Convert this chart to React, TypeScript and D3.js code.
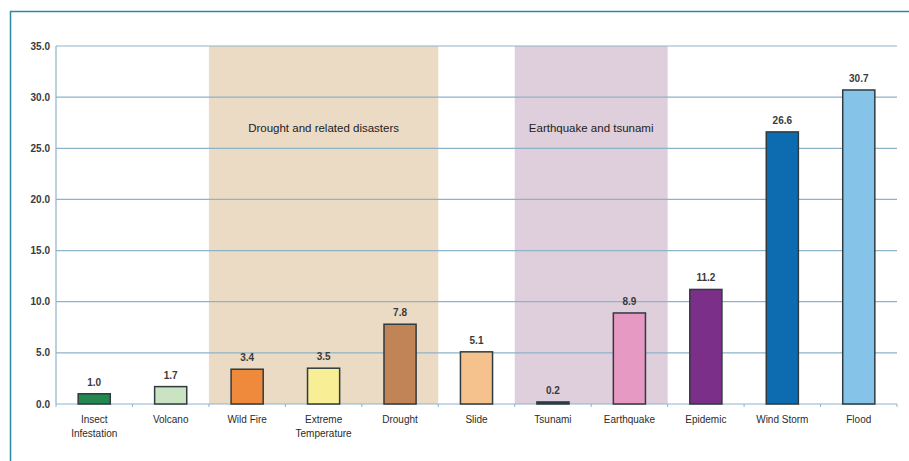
import React from "react";
import * as d3 from "d3";

// data
const categories = [
  "Insect Infestation",
  "Volcano",
  "Wild Fire",
  "Extreme Temperature",
  "Drought",
  "Slide",
  "Tsunami",
  "Earthquake",
  "Epidemic",
  "Wind Storm",
  "Flood",
];
const labelLines = [
  ["Insect", "Infestation"],
  ["Volcano"],
  ["Wild Fire"],
  ["Extreme", "Temperature"],
  ["Drought"],
  ["Slide"],
  ["Tsunami"],
  ["Earthquake"],
  ["Epidemic"],
  ["Wind Storm"],
  ["Flood"],
];
const values = [1.0, 1.7, 3.4, 3.5, 7.8, 5.1, 0.2, 8.9, 11.2, 26.6, 30.7];
const barColors = [
  "#22884f",
  "#c9e3c3",
  "#ef8a3c",
  "#f8ee96",
  "#c08457",
  "#f5c18c",
  "#1d3b5c",
  "#e69ac3",
  "#7b2f88",
  "#0d6cb0",
  "#86c3e8",
];
const yTicks = [0, 5, 10, 15, 20, 25, 30, 35];
const groups = [
  { label: "Drought and related disasters", from: "Wild Fire", to: "Drought", fill: "#ebdac4" },
  { label: "Earthquake and tsunami", from: "Tsunami", to: "Earthquake", fill: "#dfcedb" },
];

export default function App() {
  const width = 909;
  const height = 461;
  const left = 56;
  const right = 897;
  const top = 46;
  const bottom = 404;

  const x = d3.scaleBand().domain(categories).range([left, right]).paddingInner(0).paddingOuter(0);
  const y = d3.scaleLinear().domain([0, 35]).range([bottom, top]);
  const bw = x.bandwidth() * 0.42;
  const font = "'Liberation Sans', Arial, sans-serif";
  const textColor = "#2b2b2b";
  const gridColor = "#8db3c9";

  return (
    <svg
      width={width}
      height={height}
      style={{ position: "absolute", left: 0, top: 0 }}
      fontFamily={font}
    >
      <rect width={width} height={height} fill="#fff" />
      {/* frame */}
      <line x1={10} x2={width} y1={11.5} y2={11.5} stroke="#2a8aa0" strokeWidth={1.5} />
      <line x1={10.5} x2={10.5} y1={11} y2={height} stroke="#2a8aa0" strokeWidth={1.5} />

      {/* group shading */}
      {groups.map((g) => {
        const x0 = x(g.from)!;
        const x1 = x(g.to)! + x.bandwidth();
        return (
          <g key={g.label}>
            <rect x={x0} y={top} width={x1 - x0} height={bottom - top} fill={g.fill} />
            <text
              x={(x0 + x1) / 2}
              y={y(26.6)}
              textAnchor="middle"
              fontSize={11.5}
              fill="#222"
            >
              {g.label}
            </text>
          </g>
        );
      })}

      {/* gridlines */}
      {yTicks.map((t) => (
        <line
          key={t}
          x1={left}
          x2={right}
          y1={y(t)}
          y2={y(t)}
          stroke={gridColor}
          strokeWidth={1.2}
        />
      ))}
      <line x1={left} x2={left} y1={top} y2={bottom} stroke={gridColor} strokeWidth={1.2} />

      {/* y tick labels */}
      {yTicks.map((t) => (
        <text
          key={t}
          x={50}
          y={y(t) + 3.5}
          textAnchor="end"
          fontSize={10}
          fontWeight="bold"
          fill="#3a3a3a"
        >
          {t.toFixed(1)}
        </text>
      ))}

      {/* x ticks */}
      {categories.map((c) => (
        <line
          key={c}
          x1={x(c)!}
          x2={x(c)!}
          y1={bottom}
          y2={bottom + 3}
          stroke={gridColor}
        />
      ))}
      <line x1={right} x2={right} y1={bottom} y2={bottom + 3} stroke={gridColor} />

      {/* bars */}
      {categories.map((c, i) => {
        const cx = x(c)! + x.bandwidth() / 2;
        const v = values[i];
        return (
          <g key={c}>
            <rect
              x={cx - bw / 2}
              y={y(v)}
              width={bw}
              height={Math.max(y(0) - y(v), 1)}
              fill={barColors[i]}
              stroke="#2f3b3f"
              strokeWidth={1.5}
            />
            <text
              x={cx}
              y={y(v) - 8}
              textAnchor="middle"
              fontSize={10}
              fontWeight="bold"
              fill="#3a3a3a"
            >
              {v.toFixed(1)}
            </text>
            {labelLines[i].map((l, j) => (
              <text
                key={j}
                x={cx}
                y={bottom + 19 + j * 14}
                textAnchor="middle"
                fontSize={10}
                fill={textColor}
              >
                {l}
              </text>
            ))}
          </g>
        );
      })}
    </svg>
  );
}
